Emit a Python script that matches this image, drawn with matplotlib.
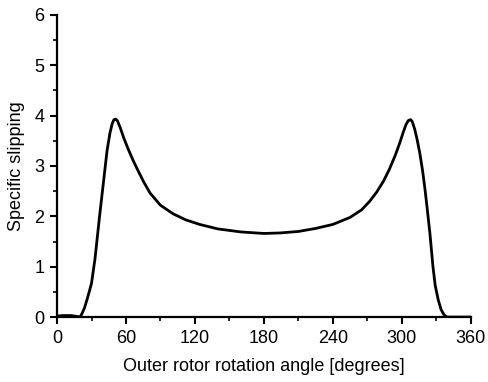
import matplotlib
matplotlib.use("Agg")
import matplotlib.pyplot as plt  # noqa: E402
from matplotlib.ticker import MultipleLocator  # noqa: E402

plt.rcParams["font.family"] = ["Liberation Sans", "DejaVu Sans"]

# curve (degrees, specific slipping)
angle = [0, 5, 12, 18, 20, 22, 24, 26, 28, 30, 33, 37, 40, 43.5, 46, 48, 49.5,
         51, 52.5, 55, 58, 62, 66, 70, 75, 81, 90, 101, 112, 124, 140, 160,
         180, 194, 210, 225, 240, 255, 265, 272, 278, 284, 289, 294, 298, 301,
         303.5, 305.5, 307.5, 309, 311, 313, 315.6, 318, 320, 322, 324.3, 327,
         329, 331.6, 334, 336.5, 339, 345, 360]
slip = [0.02, 0.03, 0.03, 0.01, 0.0, 0.08, 0.19, 0.34, 0.5, 0.67, 1.15, 2.0,
        2.6, 3.3, 3.65, 3.84, 3.92, 3.93, 3.9, 3.76, 3.56, 3.33, 3.12, 2.93,
        2.7, 2.46, 2.22, 2.05, 1.93, 1.84, 1.75, 1.69, 1.66, 1.67, 1.7, 1.76,
        1.84, 1.98, 2.13, 2.3, 2.48, 2.7, 2.93, 3.2, 3.45, 3.66, 3.82, 3.9,
        3.92, 3.88, 3.74, 3.55, 3.25, 2.9, 2.55, 2.15, 1.67, 1.0, 0.62, 0.34,
        0.15, 0.05, 0.0, 0.0, 0.0]

xticks = [0, 60, 120, 180, 240, 300, 360]
yticks = [0, 1, 2, 3, 4, 5, 6]

fig = plt.figure(figsize=(4.89, 3.82), dpi=100)
ax = fig.add_axes([0.1166, 0.170, 0.8464, 0.791])
ax.plot(angle, slip, color="black", lw=2.0)

ax.set_xlim(0, 360)
ax.set_ylim(0, 6)
ax.set_xticks(xticks)
ax.set_yticks(yticks)
ax.xaxis.set_minor_locator(MultipleLocator(30))
ax.yaxis.set_minor_locator(MultipleLocator(0.5))
for s in ("top", "right"):
    ax.spines[s].set_visible(False)
for s in ("left", "bottom"):
    ax.spines[s].set_linewidth(1.6)
ax.tick_params(which="major", direction="out", length=5, width=1.5,
               labelsize=13, pad=4)
ax.tick_params(which="minor", direction="out", length=3, width=1.2)
ax.set_xlabel("Outer rotor rotation angle [degrees]", fontsize=13, labelpad=8)
ax.set_ylabel("Specific slipping", fontsize=13, labelpad=7)

fig.savefig("out.png", dpi=100)
